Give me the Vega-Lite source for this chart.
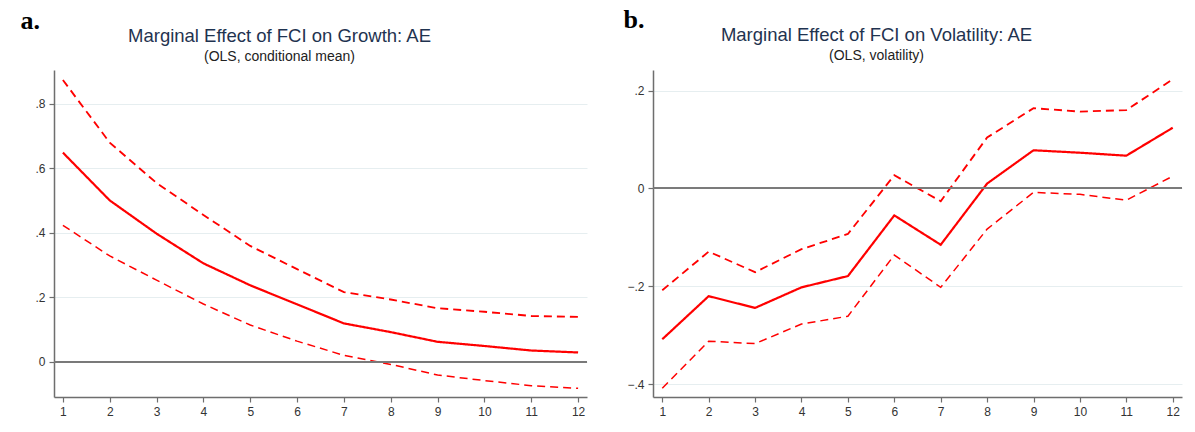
{
  "$schema": "https://vega.github.io/schema/vega-lite/v6.json",
  "background": "white",
  "padding": {"left": 20, "top": 6, "right": 5, "bottom": 5},
  "spacing": 35,
  "config": {
    "font": "Liberation Sans",
    "view": {"stroke": null},
    "axis": {
      "domainColor": "#6e6e6e",
      "domainWidth": 1.5,
      "tickColor": "#6e6e6e",
      "tickWidth": 1.2,
      "tickSize": 5,
      "labelColor": "#333333",
      "labelFontSize": 12,
      "labelFont": "Liberation Sans",
      "gridColor": "#e6eef0",
      "gridWidth": 1
    },
    "title": {
      "font": "Liberation Sans",
      "fontSize": 18.5,
      "fontWeight": "normal",
      "color": "#1f3350",
      "subtitleFont": "Liberation Sans",
      "subtitleFontSize": 14,
      "subtitleColor": "#222222",
      "subtitlePadding": 5,
      "offset": 8
    }
  },
  "datasets": {
    "growth": [
      {"h": 1, "est": 0.648, "lo": 0.423, "hi": 0.873},
      {"h": 2, "est": 0.500, "lo": 0.328, "hi": 0.679},
      {"h": 3, "est": 0.397, "lo": 0.253, "hi": 0.554},
      {"h": 4, "est": 0.305, "lo": 0.179, "hi": 0.455},
      {"h": 5, "est": 0.237, "lo": 0.114, "hi": 0.359},
      {"h": 6, "est": 0.178, "lo": 0.064, "hi": 0.287},
      {"h": 7, "est": 0.119, "lo": 0.020, "hi": 0.216},
      {"h": 8, "est": 0.092, "lo": -0.008, "hi": 0.193},
      {"h": 9, "est": 0.062, "lo": -0.041, "hi": 0.166},
      {"h": 10, "est": 0.049, "lo": -0.058, "hi": 0.155},
      {"h": 11, "est": 0.035, "lo": -0.074, "hi": 0.142},
      {"h": 12, "est": 0.029, "lo": -0.082, "hi": 0.139}
    ],
    "vol": [
      {"h": 1, "est": -0.308, "lo": -0.408, "hi": -0.208},
      {"h": 2, "est": -0.220, "lo": -0.312, "hi": -0.129},
      {"h": 3, "est": -0.244, "lo": -0.317, "hi": -0.171},
      {"h": 4, "est": -0.202, "lo": -0.277, "hi": -0.124},
      {"h": 5, "est": -0.179, "lo": -0.261, "hi": -0.093},
      {"h": 6, "est": -0.055, "lo": -0.136, "hi": 0.027},
      {"h": 7, "est": -0.115, "lo": -0.202, "hi": -0.026},
      {"h": 8, "est": 0.010, "lo": -0.083, "hi": 0.104},
      {"h": 9, "est": 0.078, "lo": -0.008, "hi": 0.164},
      {"h": 10, "est": 0.073, "lo": -0.012, "hi": 0.157},
      {"h": 11, "est": 0.067, "lo": -0.024, "hi": 0.160},
      {"h": 12, "est": 0.124, "lo": 0.025, "hi": 0.223}
    ]
  },
  "hconcat": [
    {
      "width": 533,
      "height": 327,
      "title": {"text": "Marginal Effect of FCI on Growth: AE", "subtitle": "(OLS, conditional mean)", "dx": -41, "dy": 65},
      "data": {"name": "growth"},
      "layer": [
        {
          "transform": [{"fold": ["hi", "est", "lo"], "as": ["series", "value"]}],
          "mark": {"type": "line", "color": "#ff0000"},
          "encoding": {
            "x": {"field": "h", "type": "quantitative", "scale": {"domain": [0.81, 12.19], "nice": false, "zero": false},
                  "axis": {"values": [1,2,3,4,5,6,7,8,9,10,11,12], "format": "d", "grid": false, "title": null, "labelPadding": 4, "labelFlush": false}},
            "y": {"field": "value", "type": "quantitative", "scale": {"domain": [-0.109, 0.904], "nice": false, "zero": false},
                  "axis": {"values": [0, 0.2, 0.4, 0.6, 0.8], "grid": true, "labelExpr": "datum.value == 0 ? '0' : replace(format(datum.value, '.1f'), '0.', '.')", "labelPadding": 4,
                           "title": "a.", "titleAngle": 0, "titleX": -34, "titleY": -42, "titleAlign": "left", "titleBaseline": "alphabetic", "titleFont": "Liberation Serif", "titleFontSize": 26, "titleFontWeight": "bold", "titleColor": "#000000"}},
            "detail": {"field": "series"},
            "strokeDash": {"field": "series", "scale": {"domain": ["est", "hi", "lo"], "range": [[1, 0], [8, 5], [8, 5]]}, "legend": null},
            "strokeWidth": {"field": "series", "scale": {"domain": ["est", "hi", "lo"], "range": [2.2, 1.5, 1.5]}, "legend": null}
          }
        },
        {
          "mark": {"type": "rule", "color": "#7a7a7a", "strokeWidth": 1.2},
          "encoding": {"y": {"datum": 0, "type": "quantitative"}}
        }
      ]
    },
    {
      "width": 529,
      "height": 327,
      "title": {"text": "Marginal Effect of FCI on Volatility: AE", "subtitle": "(OLS, volatility)", "dx": -41, "dy": 65},
      "data": {"name": "vol"},
      "layer": [
        {
          "transform": [{"fold": ["hi", "est", "lo"], "as": ["series", "value"]}],
          "mark": {"type": "line", "color": "#ff0000"},
          "encoding": {
            "x": {"field": "h", "type": "quantitative", "scale": {"domain": [0.8, 12.2], "nice": false, "zero": false},
                  "axis": {"values": [1,2,3,4,5,6,7,8,9,10,11,12], "format": "d", "grid": false, "title": null, "labelPadding": 4, "labelFlush": false}},
            "y": {"field": "value", "type": "quantitative", "scale": {"domain": [-0.426, 0.242], "nice": false, "zero": false},
                  "axis": {"values": [-0.4, -0.2, 0, 0.2], "grid": true, "labelExpr": "datum.value == 0 ? '0' : replace(format(datum.value, '.1f'), '0.', '.')", "labelPadding": 4,
                           "title": "b.", "titleAngle": 0, "titleX": -30, "titleY": -43, "titleAlign": "left", "titleBaseline": "alphabetic", "titleFont": "Liberation Serif", "titleFontSize": 26, "titleFontWeight": "bold", "titleColor": "#000000"}},
            "detail": {"field": "series"},
            "strokeDash": {"field": "series", "scale": {"domain": ["est", "hi", "lo"], "range": [[1, 0], [8, 5], [8, 5]]}, "legend": null},
            "strokeWidth": {"field": "series", "scale": {"domain": ["est", "hi", "lo"], "range": [2.2, 1.5, 1.5]}, "legend": null}
          }
        },
        {
          "mark": {"type": "rule", "color": "#7a7a7a", "strokeWidth": 1.2},
          "encoding": {"y": {"datum": 0, "type": "quantitative"}}
        }
      ]
    }
  ]
}
